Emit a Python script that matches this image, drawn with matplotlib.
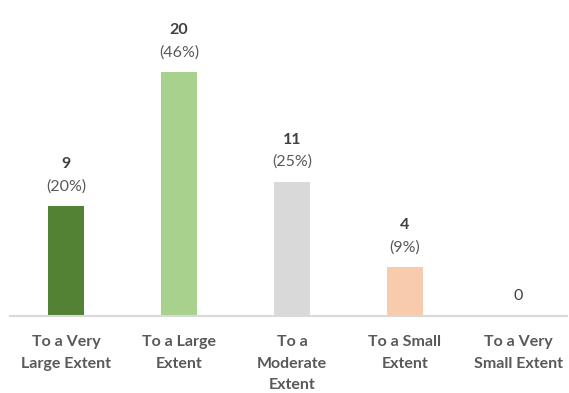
import matplotlib
matplotlib.use("Agg")
import matplotlib.pyplot as plt

categories = ["To a Very\nLarge Extent", "To a Large\nExtent", "To a\nModerate\nExtent",
              "To a Small\nExtent", "To a Very\nSmall Extent"]
counts = [9, 20, 11, 4, 0]
percents = ["(20%)", "(46%)", "(25%)", "(9%)", ""]
colors = ["#548235", "#A9D18E", "#D9D9D9", "#F8CBAD", "#F8CBAD"]

W, H = 569, 393
fig = plt.figure(figsize=(W / 100, H / 100), dpi=100)
plt.rcParams['font.family'] = ['Lato', 'DejaVu Sans']

base_y = 316
top_y = 10
left_x = 9.5
right_x = 567
step = 113.0
ax = fig.add_axes([left_x / W, 1 - base_y / H, (right_x - left_x) / W, (base_y - top_y) / H])
px_per_unit = 12.18
ax.set_ylim(0, (base_y - top_y) / px_per_unit)
ax.set_xlim(-0.5, -0.5 + (right_x - left_x) / step)

x = list(range(len(categories)))
ax.bar(x, counts, width=36 / step, color=colors)

for xi, c, p in zip(x, counts, percents):
    if c == 0:
        ax.annotate("0", (xi, c), xytext=(0, 20 * 0.72), textcoords="offset points",
                    ha="center", va="center", fontsize=11.5, color="#404040")
    else:
        ax.annotate(p, (xi, c), xytext=(0, 20 * 0.72), textcoords="offset points",
                    ha="center", va="center", fontsize=11.5, color="#595959")
        ax.annotate(str(c), (xi, c), xytext=(0, 42 * 0.72), textcoords="offset points",
                    ha="center", va="center", fontsize=11.5, color="#404040", fontweight="bold")

for s in ["top", "left", "right"]:
    ax.spines[s].set_visible(False)
ax.spines["bottom"].set_color("#D9D9D9")
ax.spines["bottom"].set_linewidth(1.5)
ax.set_yticks([])
ax.set_xticks(x)
ax.set_xticklabels(categories, fontsize=11.5, fontweight="bold", color="#595959", linespacing=1.68)
ax.tick_params(axis="x", length=0, pad=14)

fig.savefig("out.png", dpi=100)
